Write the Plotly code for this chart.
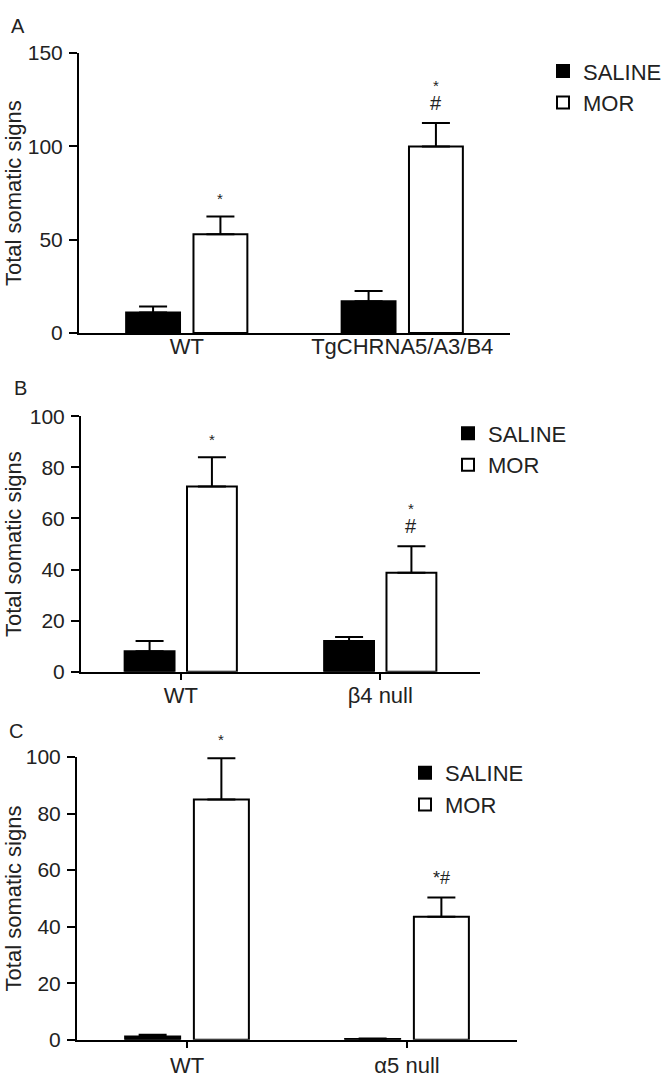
import plotly.graph_objects as go

# ---------------- data ----------------
groups_A = ["WT", "TgCHRNA5/A3/B4"]
saline_A = [11, 17]
saline_A_err = [3.2, 5.5]
mor_A = [53, 100]
mor_A_err = [9.5, 12.5]
star_A = ["*", "*"]
hash_A = ["", "#"]

groups_B = ["WT", "β4 null"]
saline_B = [8, 12]
saline_B_err = [4, 1.6]
mor_B = [72.5, 38.8]
mor_B_err = [11.5, 10.3]
star_B = ["*", "*"]
hash_B = ["", "#"]

groups_C = ["WT", "α5 null"]
saline_C = [1.2, 0.3]
saline_C_err = [0.6, 0.2]
mor_C = [85, 43.5]
mor_C_err = [14.5, 6.8]
mark_C = ["*", "*#"]

ymax = [150, 100, 100]
yticks_A = [0, 50, 100, 150]
yticks_BC = [0, 20, 40, 60, 80, 100]
panel_letters = ["A", "B", "C"]
y_title = "Total somatic signs"
legend_names = ["SALINE", "MOR"]

# ---------------- layout geometry (pixels in 670x1090) ----------------
W, H = 670, 1090
FONT = "Liberation Sans, Arial, sans-serif"
TXT = "#222222"

panels = [
    dict(groups=groups_A, sal=saline_A, sal_e=saline_A_err, mor=mor_A, mor_e=mor_A_err,
         xpx=(79, 510), ypx=(42, 328), ticks=yticks_A, rng=ymax[0], xticks=False,
         standoff=-7, legend=dict(x=543, y=39), letter=(18, 14)),
    dict(groups=groups_B, sal=saline_B, sal_e=saline_B_err, mor=mor_B, mor_e=mor_B_err,
         xpx=(81, 480), ypx=(413, 674), ticks=yticks_BC, rng=ymax[1], xticks=True,
         standoff=-3, legend=dict(x=448, y=409), letter=(20, 384)),
    dict(groups=groups_C, sal=saline_C, sal_e=saline_C_err, mor=mor_C, mor_e=mor_C_err,
         xpx=(77, 517), ypx=(761, 1050), ticks=yticks_BC, rng=ymax[2], xticks=True,
         standoff=-1, legend=dict(x=405, y=756), letter=(16, 735)),
]

BARGAP = 0.375
GROUPGAP = 0.2

fig = go.Figure()
annotations = []
layout_extra = {}

for i, p in enumerate(panels):
    n = i + 1
    xa = "x" if n == 1 else f"x{n}"
    ya = "y" if n == 1 else f"y{n}"
    lg = "legend" if n == 1 else f"legend{n}"
    err_style = dict(type="data", symmetric=False, color="black", thickness=2, width=14)

    fig.add_trace(go.Bar(
        x=p["groups"], y=p["sal"], name=legend_names[0], xaxis=xa, yaxis=ya, legend=lg,
        marker=dict(color="black", line=dict(color="black", width=2)),
        error_y=dict(array=p["sal_e"], arrayminus=[0] * len(p["sal_e"]), **err_style),
        cliponaxis=False,
    ))
    fig.add_trace(go.Bar(
        x=p["groups"], y=p["mor"], name=legend_names[1], xaxis=xa, yaxis=ya, legend=lg,
        marker=dict(color="white", line=dict(color="black", width=2)),
        error_y=dict(array=p["mor_e"], arrayminus=[0] * len(p["mor_e"]), **err_style),
        cliponaxis=False,
    ))

    x0, x1 = p["xpx"]
    yt, yb = p["ypx"]
    xdom = [x0 / W, x1 / W]
    ydom = [1 - yb / H, 1 - yt / H]

    xkey = "xaxis" if n == 1 else f"xaxis{n}"
    ykey = "yaxis" if n == 1 else f"yaxis{n}"
    layout_extra[xkey] = dict(
        domain=xdom, anchor=ya, type="category", range=[-0.5, 1.5],
        showline=True, linecolor="black", linewidth=2, showgrid=False, zeroline=False,
        ticks="outside" if p["xticks"] else "", ticklen=6, tickwidth=2, tickcolor="black",
        tickfont=dict(family=FONT, size=22, color=TXT),
        ticklabelstandoff=p["standoff"],
    )
    layout_extra[ykey] = dict(
        domain=ydom, anchor=xa, range=[0, p["rng"]], tickvals=p["ticks"],
        showline=True, linecolor="black", linewidth=2, showgrid=False, zeroline=False,
        ticks="outside", ticklen=8, tickwidth=2, tickcolor="black",
        tickfont=dict(family=FONT, size=21, color=TXT), ticklabelstandoff=2,
    )
    layout_extra[lg] = dict(
        x=p["legend"]["x"] / W, y=1 - p["legend"]["y"] / H, xanchor="left", yanchor="top",
        font=dict(family=FONT, size=22, color=TXT), bgcolor="rgba(0,0,0,0)",
        itemwidth=30, tracegroupgap=0,
    )

    # y-axis title
    annotations.append(dict(
        text=y_title, textangle=-90, xref="paper", yref="paper",
        x=13 / W, y=1 - (yt + yb) / 2 / H, xanchor="center", yanchor="middle",
        showarrow=False, font=dict(family=FONT, size=22, color=TXT),
    ))
    # panel letter
    lx, ly = p["letter"]
    annotations.append(dict(
        text=panel_letters[i], xref="paper", yref="paper", x=lx / W, y=1 - ly / H,
        xanchor="center", yanchor="middle", showarrow=False,
        font=dict(family=FONT, size=20, color=TXT),
    ))

    # offset of MOR bar centre from the category centre (px)
    band = (x1 - x0) / 2
    shift = band * (1 - BARGAP) / 4

    if n in (1, 2):
        stars = star_A if n == 1 else star_B
        hashes = hash_A if n == 1 else hash_B
        for g, v, e, s, h in zip(p["groups"], p["mor"], p["mor_e"], stars, hashes):
            top = v + e
            if h:
                annotations.append(dict(
                    text=h, xref=xa, yref=ya, x=g, y=top, xshift=shift, yshift=7,
                    yanchor="bottom", showarrow=False,
                    font=dict(family=FONT, size=20, color=TXT),
                ))
                annotations.append(dict(
                    text=s, xref=xa, yref=ya, x=g, y=top, xshift=shift, yshift=27,
                    yanchor="bottom", showarrow=False,
                    font=dict(family=FONT, size=15, color=TXT),
                ))
            else:
                annotations.append(dict(
                    text=s, xref=xa, yref=ya, x=g, y=top, xshift=shift, yshift=7,
                    yanchor="bottom", showarrow=False,
                    font=dict(family=FONT, size=15, color=TXT),
                ))
    else:
        for g, v, e, s in zip(p["groups"], p["mor"], p["mor_e"], mark_C):
            top = v + e
            annotations.append(dict(
                text=s, xref=xa, yref=ya, x=g, y=top, xshift=shift, yshift=8,
                yanchor="bottom", showarrow=False,
                font=dict(family=FONT, size=18 if len(s) > 1 else 15, color=TXT),
            ))

fig.update_layout(
    width=W, height=H, margin=dict(l=0, r=0, t=0, b=0),
    paper_bgcolor="white", plot_bgcolor="white",
    barmode="group", bargap=BARGAP, bargroupgap=GROUPGAP,
    annotations=annotations, showlegend=True, hovermode=False,
    font=dict(family=FONT, color=TXT),
    **layout_extra,
)

fig.write_html(
    "out.html",
    config={"displayModeBar": False, "staticPlot": True},
    post_script="document.body.style.margin='0';document.body.style.overflow='hidden';",
)
